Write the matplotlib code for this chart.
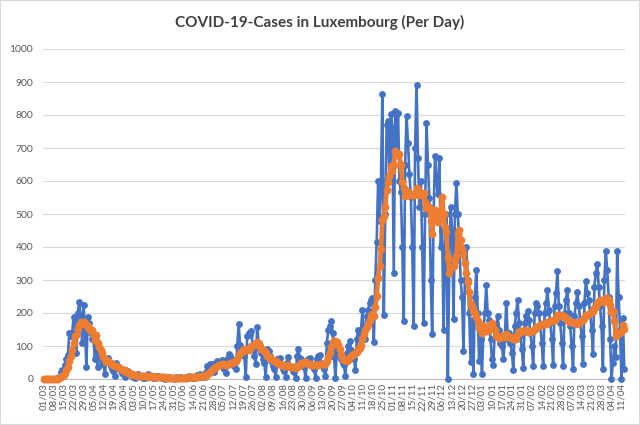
import matplotlib
matplotlib.use("Agg")
import matplotlib.pyplot as plt
import matplotlib.dates as mdates
from matplotlib.patches import Rectangle
import pandas as pd

plt.rcParams['font.family'] = ['Lato', 'DejaVu Sans']

# daily new cases, one row per week (Sunday .. Saturday), starting 01/03/2020
start = "2020-03-01"
cases = [
    0, 0, 0, 0, 1, 0, 1,
    0, 1, 2, 3, 5, 20, 27,
    26, 42, 60, 73, 139, 130, 140,
    189, 180, 78, 200, 234, 190, 109,
    224, 150, 37, 189, 169, 140, 120,
    118, 60, 130, 37, 80, 70, 55,
    45, 15, 60, 65, 55, 40, 30,
    25, 10, 50, 40, 30, 25, 18,
    15, 5, 20, 25, 15, 12, 10,
    6, 3, 12, 15, 10, 8, 5,
    4, 2, 10, 15, 8, 10, 5,
    3, 2, 10, 8, 6, 5, 3,
    2, 1, 5, 4, 6, 3, 2,
    2, 1, 5, 3, 4, 5, 3,
    3, 2, 6, 5, 8, 6, 3,
    4, 3, 10, 12, 8, 15, 6,
    8, 5, 20, 40, 35, 45, 44,
    30, 20, 50, 55, 47, 50, 58,
    35, 30, 17, 60, 75, 70, 60,
    45, 40, 29, 100, 166, 103, 90,
    80, 70, 7, 130, 140, 134, 144,
    90, 70, 45, 159, 110, 90, 80,
    60, 50, 7, 91, 85, 70, 55,
    40, 30, 7, 60, 55, 63, 45,
    30, 25, 7, 50, 68, 40, 35,
    25, 20, 2, 70, 90, 65, 60,
    40, 35, 2, 55, 60, 63, 45,
    35, 30, 2, 60, 70, 73, 50,
    35, 30, 9, 110, 150, 160, 177,
    140, 68, 2, 90, 80, 70, 60,
    50, 43, 9, 80, 100, 116, 88,
    70, 60, 27, 120, 149, 140, 150,
    209, 150, 120, 190, 210, 230, 240,
    244, 112, 300, 416, 599, 480, 600,
    863, 193, 500, 771, 781, 600, 802,
    760, 320, 812, 680, 807, 600, 568,
    400, 177, 650, 796, 716, 620, 553,
    400, 162, 700, 892, 670, 522, 600,
    400, 169, 500, 776, 650, 550, 300,
    137, 500, 675, 600, 560, 670, 400,
    450, 147, 400, 500, 0, 350, 522,
    450, 183, 500, 594, 500, 421, 300,
    250, 86, 300, 401, 300, 200, 51,
    180, 15, 250, 329, 200, 54, 120,
    15, 150, 200, 284, 200, 180, 120,
    60, 43, 150, 160, 190, 150, 110,
    100, 60, 120, 230, 140, 140, 110,
    80, 28, 160, 200, 240, 170, 130,
    90, 33, 170, 190, 205, 180, 140,
    100, 38, 200, 230, 220, 200, 160,
    110, 38, 200, 230, 269, 210, 170,
    120, 43, 220, 260, 326, 220, 170,
    110, 38, 200, 240, 269, 200, 160,
    100, 30, 190, 230, 263, 220, 180,
    130, 45, 230, 296, 260, 240, 200,
    150, 76, 280, 320, 349, 280, 220,
    160, 30, 300, 389, 330, 250, 120,
    0, 50, 100, 67, 389, 250, 150,
    0, 185, 30,
]

dates = pd.date_range(start, periods=len(cases), freq="D")
# 7 day average (orange line)
avg7 = pd.Series(cases).rolling(7, min_periods=1).mean()

fig = plt.figure(figsize=(6.4, 4.25), dpi=100)
ax = fig.add_axes([43 / 640, 46 / 425, 582 / 640, 330 / 425])

ax.plot(dates, cases, color="#4472C4", lw=1.9, marker="o", ms=3.9,
        clip_on=False, zorder=3)
ax.plot(dates, avg7, color="#ED7D31", lw=3.3, marker="o", ms=4.6,
        clip_on=False, zorder=4)

ax.set_ylim(0, 1000)
ax.set_yticks(range(0, 1001, 100))
ax.set_xlim(dates[0] - pd.Timedelta(hours=12), dates[-1] + pd.Timedelta(hours=12))
ax.xaxis.set_major_locator(mdates.WeekdayLocator(byweekday=mdates.SU))
ax.xaxis.set_major_formatter(mdates.DateFormatter("%d/%m"))
plt.setp(ax.get_xticklabels(), rotation=90)

ax.grid(axis="y", color="#d9d9d9", lw=0.8)
ax.set_axisbelow(True)
for s in ["left", "right", "top"]:
    ax.spines[s].set_visible(False)
ax.spines["bottom"].set_color("#bfbfbf")
ax.tick_params(axis="y", length=0, pad=7, labelsize=7.5, labelcolor="#595959")
ax.tick_params(axis="x", length=0, pad=3, labelsize=7, labelcolor="#595959")

fig.text(0.5, 1 - 22 / 425, "COVID-19-Cases in Luxembourg (Per Day)",
         ha="center", va="center", fontsize=11, fontweight="bold", color="#404040")

fig.patches.append(Rectangle((0, 0), 1, 1, transform=fig.transFigure,
                             fill=False, ec="#d9d9d9", lw=1.5))

fig.savefig("out.png", dpi=100)
